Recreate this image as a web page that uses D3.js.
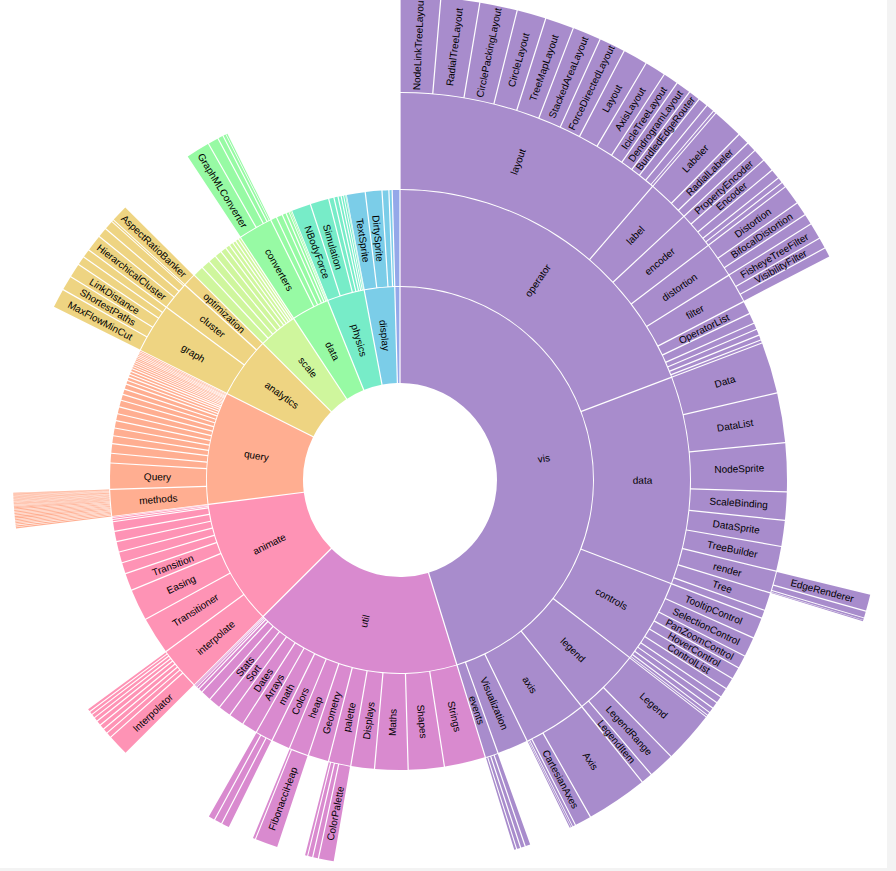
<!DOCTYPE html>
<html><head><meta charset="utf-8">
<script src="https://cdn.jsdelivr.net/npm/d3@7"></script>
<style>
html,body{margin:0;padding:0;background:#f3f3f3;overflow:hidden}
svg{display:block;background:#fff}
</style>
</head><body>
<script>
// Flare package hierarchy: [path within package, size]
const analytics = [
  ["cluster/AgglomerativeCluster",3938],["cluster/CommunityStructure",3812],["cluster/HierarchicalCluster",6714],["cluster/MergeEdge",743],
  ["graph/BetweennessCentrality",3534],["graph/LinkDistance",5731],["graph/MaxFlowMinCut",7840],["graph/ShortestPaths",5914],["graph/SpanningTree",3416],
  ["optimization/AspectRatioBanker",7074]
];
const animate = [
  ["Easing",17010],["FunctionSequence",5842],
  ["interpolate/ArrayInterpolator",1983],["interpolate/ColorInterpolator",2047],["interpolate/DateInterpolator",1375],["interpolate/Interpolator",8746],
  ["interpolate/MatrixInterpolator",2202],["interpolate/NumberInterpolator",1382],["interpolate/ObjectInterpolator",1629],["interpolate/PointInterpolator",1675],["interpolate/RectangleInterpolator",2042],
  ["ISchedulable",1041],["Parallel",5176],["Pause",449],["Scheduler",5593],["Sequence",5534],["Transition",9201],["Transitioner",19975],["TransitionEvent",1116],["Tween",6006]
];
const dataPkg = [
  ["converters/Converters",721],["converters/DelimitedTextConverter",4294],["converters/GraphMLConverter",9800],["converters/IDataConverter",1314],["converters/JSONConverter",2220],
  ["DataField",1759],["DataSchema",2165],["DataSet",586],["DataSource",3331],["DataTable",772],["DataUtil",3322]
];
const display = [["DirtySprite",8833],["LineSprite",1732],["RectSprite",3623],["TextSprite",10066]];
const flex = [["FlareVis",4116]];
const physics = [["DragForce",1082],["GravityForce",1336],["IForce",319],["NBodyForce",10498],["Particle",2822],["Simulation",9983],["Spring",2213],["SpringForce",1681]];
const query = [
  ["AggregateExpression",1616],["And",1027],["Arithmetic",3891],["Average",891],["BinaryExpression",2893],["Comparison",5103],["CompositeExpression",3677],
  ["Count",781],["DateUtil",4141],["Distinct",933],["Expression",5130],["ExpressionIterator",3617],["Fn",3240],["If",2732],["IsA",2039],["Literal",1214],
  ["Match",3748],["Maximum",843],
  ["methods/add",593],["methods/and",330],["methods/average",287],["methods/count",277],["methods/distinct",292],["methods/div",595],["methods/eq",594],
  ["methods/fn",460],["methods/gt",603],["methods/gte",625],["methods/iff",748],["methods/isa",461],["methods/lt",597],["methods/lte",619],["methods/max",283],
  ["methods/min",283],["methods/mod",591],["methods/mul",603],["methods/neq",599],["methods/not",386],["methods/or",323],["methods/orderby",307],["methods/range",772],
  ["methods/select",296],["methods/stddev",363],["methods/sub",600],["methods/sum",280],["methods/update",307],["methods/variance",335],["methods/where",299],
  ["methods/xor",354],["methods/_",264],
  ["Minimum",843],["Not",1554],["Or",970],["Query",13896],["Range",1594],["StringUtil",4130],["Sum",791],["Variable",1124],["Variance",1876],["Xor",1101]
];
const scale = [["IScaleMap",2105],["LinearScale",1316],["LogScale",3151],["OrdinalScale",3770],["QuantileScale",2435],["QuantitativeScale",4839],["RootScale",1756],["Scale",4268],["ScaleType",1821],["TimeScale",5833]];
const util = [
  ["Arrays",8258],["Colors",10001],["Dates",8217],["Displays",12555],["Filter",2324],["Geometry",10993],
  ["heap/FibonacciHeap",9354],["heap/HeapNode",1233],
  ["IEvaluable",335],["IPredicate",383],["IValueProxy",874],
  ["math/DenseMatrix",3165],["math/IMatrix",2815],["math/SparseMatrix",3366],
  ["Maths",17705],["Orientation",1486],
  ["palette/ColorPalette",6367],["palette/Palette",1229],["palette/ShapePalette",2059],["palette/SizePalette",2291],
  ["Property",5559],["Shapes",19118],["Sort",6887],["Stats",6557],["Strings",22026]
];
const vis = [
  ["axis/Axes",1302],["axis/Axis",24593],["axis/AxisGridLine",652],["axis/AxisLabel",636],["axis/CartesianAxes",6703],
  ["controls/AnchorControl",2138],["controls/ClickControl",3824],["controls/Control",1353],["controls/ControlList",4665],["controls/DragControl",2649],
  ["controls/ExpandControl",2832],["controls/HoverControl",4896],["controls/IControl",763],["controls/PanZoomControl",5222],["controls/SelectionControl",7862],["controls/TooltipControl",8435],
  ["data/Data",20544],["data/DataList",19788],["data/DataSprite",10349],["data/EdgeSprite",3301],["data/NodeSprite",19382],
  ["data/render/ArrowType",698],["data/render/EdgeRenderer",5569],["data/render/IRenderer",353],["data/render/ShapeRenderer",2247],
  ["data/ScaleBinding",11275],["data/Tree",7147],["data/TreeBuilder",9930],
  ["events/DataEvent",2313],["events/SelectionEvent",1880],["events/TooltipEvent",1701],["events/VisualizationEvent",1117],
  ["legend/Legend",20859],["legend/LegendItem",4614],["legend/LegendRange",10530],
  ["operator/distortion/BifocalDistortion",4461],["operator/distortion/Distortion",6314],["operator/distortion/FisheyeDistortion",3444],
  ["operator/encoder/ColorEncoder",3179],["operator/encoder/Encoder",4060],["operator/encoder/PropertyEncoder",4138],["operator/encoder/ShapeEncoder",1690],["operator/encoder/SizeEncoder",1830],
  ["operator/filter/FisheyeTreeFilter",5219],["operator/filter/GraphDistanceFilter",3165],["operator/filter/VisibilityFilter",3509],
  ["operator/IOperator",1286],
  ["operator/label/Labeler",9956],["operator/label/RadialLabeler",3899],["operator/label/StackedAreaLabeler",3202],
  ["operator/layout/AxisLayout",6725],["operator/layout/BundledEdgeRouter",3727],["operator/layout/CircleLayout",9317],["operator/layout/CirclePackingLayout",12003],
  ["operator/layout/DendrogramLayout",4853],["operator/layout/ForceDirectedLayout",8411],["operator/layout/IcicleTreeLayout",4864],["operator/layout/IndentedTreeLayout",3174],
  ["operator/layout/Layout",7881],["operator/layout/NodeLinkTreeLayout",12870],["operator/layout/PieLayout",2728],["operator/layout/RadialTreeLayout",12348],
  ["operator/layout/RandomLayout",870],["operator/layout/StackedAreaLayout",9121],["operator/layout/TreeMapLayout",9191],
  ["operator/Operator",2490],["operator/OperatorList",5248],["operator/OperatorSequence",4190],["operator/OperatorSwitch",2581],["operator/SortOperator",2023],
  ["Visualization",16540]
];
const packages = [["analytics",analytics],["animate",animate],["data",dataPkg],["display",display],["flex",flex],["physics",physics],["query",query],["scale",scale],["util",util],["vis",vis]];

const W = 887, H = 868, cx = 400, cy = 480, radius = 485;

function buildTree() {
  const root = {name: "flare", children: []};
  for (const [pkg, rows] of packages) {
    const g = {name: pkg, children: []};
    root.children.push(g);
    for (const [path, v] of rows) {
      const parts = path.split("/");
      let node = g;
      parts.forEach((p, i) => {
        if (i === parts.length - 1) node.children.push({name: p, value: v});
        else {
          let c = node.children.find(x => x.name === p && x.children);
          if (!c) { c = {name: p, children: []}; node.children.push(c); }
          node = c;
        }
      });
    }
  }
  return root;
}

const data = buildTree();
const color = d3.scaleOrdinal(d3.quantize(d3.interpolateRainbow, data.children.length + 1));
const root = d3.partition().size([2 * Math.PI, radius])(
  d3.hierarchy(data).sum(d => d.value).sort((a, b) => b.value - a.value));

const arc = d3.arc()
  .startAngle(d => d.x0).endAngle(d => d.x1)
  .padAngle(d => Math.min((d.x1 - d.x0) / 2, 0.005))
  .padRadius(radius / 2)
  .innerRadius(d => d.y0)
  .outerRadius(d => d.y1 - 1);

const svg = d3.select("body").append("svg").attr("width", W).attr("height", H);
const g = svg.append("g").attr("transform", `translate(${cx},${cy})`);

g.append("g").attr("fill-opacity", 0.6)
  .selectAll("path")
  .data(root.descendants().filter(d => d.depth))
  .join("path")
  .attr("fill", d => { while (d.depth > 1) d = d.parent; return color(d.data.name); })
  .attr("d", arc);

g.append("g")
  .attr("pointer-events", "none")
  .attr("text-anchor", "middle")
  .attr("font-size", 10)
  .attr("font-family", "'Liberation Sans', Arial, sans-serif")
  .selectAll("text")
  .data(root.descendants().filter(d => d.depth && (d.y0 + d.y1) / 2 * (d.x1 - d.x0) > 10))
  .join("text")
  .attr("transform", d => {
    const x = (d.x0 + d.x1) / 2 * 180 / Math.PI;
    const y = (d.y0 + d.y1) / 2;
    return `rotate(${x - 90}) translate(${y},0) rotate(${x < 180 ? 0 : 180})`;
  })
  .attr("dy", "0.35em")
  .text(d => d.data.name);
</script>
</body></html>
